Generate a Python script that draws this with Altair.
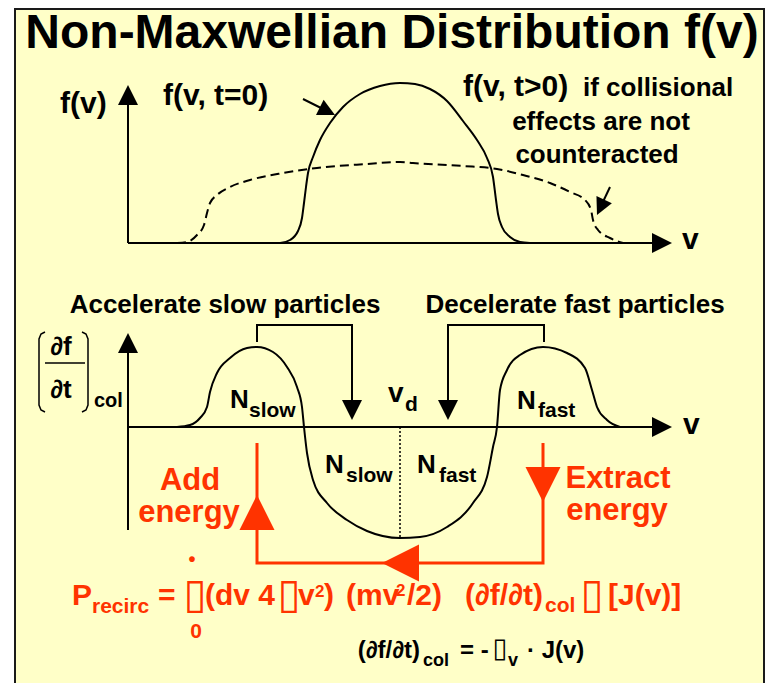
import math
import altair as alt
import pandas as pd

BLACK = "#000000"
RED = "#ff3300"
PAPER = "#ffffc8"
FONT = "Liberation Sans"
ARROW = "M0,-1L1,1L-1,1Z"

# ---------------- curves (positions in reference pixel space) ----------------
f0_x = [270, 280, 290, 298, 302, 304, 306, 308, 313, 320, 330, 343, 360, 380, 400,
        415, 430, 447, 463, 477, 487, 493, 496, 498, 502, 510, 520, 530]
f0_y = [243, 243, 240, 231, 218, 203, 187, 173, 157, 140, 123, 107, 94, 86, 83,
        84, 89, 101, 121, 140, 158, 177, 200, 214, 227, 237, 242, 243]

ft_x = [177, 187, 197, 204, 207, 210, 217, 230, 250, 283, 317, 367, 400, 413, 463,
        497, 523, 550, 570, 585, 591, 593, 598, 610, 623]
ft_y = [243, 242, 235, 225, 213, 203, 195, 187, 180, 173, 168, 164, 162, 163, 166,
        169, 175, 183, 192, 200, 210, 220, 230, 238, 243]

dd_x = [177, 190, 200, 207, 210, 217, 230, 247, 257, 273, 287, 297, 302, 304, 307,
        313, 327, 347, 367, 400, 420, 447, 473, 487, 493, 497, 500, 507, 520, 543,
        567, 585, 592, 597, 607, 620]
dd_y = [427, 425, 418, 407, 392, 373, 358, 348, 347, 352, 367, 387, 407, 427, 453,
        480, 503, 520, 531, 538, 537, 527, 503, 477, 447, 427, 390, 370, 355, 347,
        353, 368, 390, 407, 420, 427]

# ---------------- straight strokes ----------------
black_paths = [
    ([128, 128], [243, 100]),                 # top f(v) axis
    ([128, 655], [243, 243]),                 # top v axis
    ([128, 128], [530, 348]),                 # bottom (df/dt) axis
    ([128, 655], [427, 427]),                 # bottom v axis
    ([303, 327], [99, 111]),                  # f(v,t=0) pointer
    ([610, 601], [187, 206]),                 # f(v,t>0) pointer
    ([257, 257, 352, 352], [342, 325, 325, 405]),   # accelerate bracket
    ([544, 544, 448, 448], [342, 325, 325, 405]),   # decelerate bracket
]
thin_paths = [
    ([45, 41, 39, 39, 41, 45], [332, 334, 339, 405, 410, 412]),   # left bracket
    ([82, 86, 88, 88, 86, 82], [332, 334, 339, 405, 410, 412]),   # right bracket
    ([45, 85], [363, 363]),                                        # fraction bar
]
red_paths = [
    ([257, 257, 543, 543], [443, 563, 563, 443]),
]
dotted_x = [400, 400]
dotted_y = [427, 538]

# ---------------- arrow heads: tip x, tip y, direction (deg, clockwise from up), size ----------------
head_x = [128, 672, 335, 597, 128, 672, 352, 448, 257, 543, 382]
head_y = [85, 243, 115, 215, 333, 427, 420, 420, 495, 502, 563]
head_ang = [0, 90, 116.6, 204.9, 0, 90, 180, 180, 0, 180, 270]
head_side = [20, 20, 17, 17, 20, 20, 20, 20, 35, 35, 37]
head_col = [BLACK] * 8 + [RED] * 3

# ---------------- text ----------------
lab_text = ["Non-Maxwellian Distribution f(v)",
            "f(v)", "f(v, t=0)", "f(v, t>0)", "if collisional", "effects are not", "counteracted", "v",
            "Accelerate slow particles", "Decelerate fast particles", "v",
            "∂f", "∂t", "col",
            "N", "slow", "N", "slow", "N", "fast", "N", "fast", "v", "d",
            "Add", "energy", "Extract", "energy",
            "P", "recirc", "=", "•", "0", "(dv 4", "v", "2", ")", "(mv", "2", "/2)", "(∂f/∂t)", "col", "[J(v)]",
            "(∂f/∂t)", "col", "= -", "v", "· J(v)"]
lab_x = [392,
         60, 163, 463, 583, 601, 597, 682,
         225, 575, 683,
         61, 61, 94,
         230, 249, 325, 346, 417, 439, 517, 538, 388, 405,
         190, 189, 618, 617,
         72, 92, 158, 192, 196, 205, 298, 315, 324, 346, 396, 407, 543, 545, 608,
         420, 423, 460, 508, 527]
lab_y = [48,
         113, 105, 96, 96, 130, 163, 249,
         313, 313, 434,
         355, 398, 407,
         408, 417, 473, 482, 473, 482, 409, 417, 402, 411,
         490, 522, 488, 520,
         605, 613, 605, 566, 638, 605, 605, 597, 605, 605, 596, 605, 605, 612, 605,
         658, 666, 658, 666, 658]
lab_size = [48,
            30, 30, 30, 26, 26, 26, 30,
            26, 26, 30,
            26, 26, 20,
            26, 21, 26, 21, 26, 21, 26, 21, 28, 21,
            31, 31, 31, 31,
            30, 21, 30, 20, 21, 30, 30, 17, 30, 30, 17, 30, 30, 21, 30,
            24, 18, 24, 18, 24]
lab_col = [BLACK] * 24 + [RED] * 19 + [BLACK] * 5
lab_align = (["center"] + ["left"] * 4 + ["center", "center", "left"] + ["center", "center", "left"]
             + ["center", "center", "left"] + ["left"] * 10 + ["center"] * 4
             + ["left", "left", "left", "center", "center"] + ["left"] * 7 + ["right", "left", "left"]
             + ["right"] + ["left"] * 4)

# missing-glyph boxes as they appear in the picture
box_x = [195, 289, 592, 500]
box_y = [608, 608, 608, 657]
box_size = [42, 42, 42, 27]
box_col = [RED, RED, RED, BLACK]

# ---------------- chart ----------------
xscale = alt.Scale(domain=[8, 765], nice=False, zero=False)
yscale = alt.Scale(domain=[8, 683], reverse=True, nice=False, zero=False)
X = alt.X("x:Q", scale=xscale, axis=None)
Y = alt.Y("y:Q", scale=yscale, axis=None)


def path_layer(paths, color, width, dash=None, interp="linear"):
    rows = []
    for pid, (xs, ys) in enumerate(paths):
        for i, (a, b) in enumerate(zip(xs, ys)):
            rows.append({"pid": pid, "i": i, "x": a, "y": b})
    props = dict(color=color, strokeWidth=width, interpolate=interp,
                 strokeCap="butt", strokeJoin="miter")
    if dash:
        props["strokeDash"] = dash
    return alt.Chart(pd.DataFrame(rows)).mark_line(**props).encode(
        x=X, y=Y, detail="pid:N", order="i:Q")


frame = alt.Chart(pd.DataFrame({"x": [15], "x2": [764], "y": [9], "y2": [720]})).mark_rect(
    fill=PAPER, stroke="#1a1a1a", strokeWidth=2).encode(
    x=X, x2="x2:Q", y=Y, y2="y2:Q")

curve_solid = path_layer([(f0_x, f0_y), (dd_x, dd_y)], BLACK, 2, interp="monotone")
curve_dash = path_layer([(ft_x, ft_y)], BLACK, 2, dash=[9, 5], interp="monotone")
strokes = path_layer(black_paths, BLACK, 2)
thin = path_layer(thin_paths, BLACK, 1.5)
red = path_layer(red_paths, RED, 3)
dotted = path_layer([(dotted_x, dotted_y)], BLACK, 1.5, dash=[2, 2])

hrows = []
for tx, ty, ang, side, col in zip(head_x, head_y, head_ang, head_side, head_col):
    s = side / 2.0
    th = math.radians(ang)
    hrows.append({"x": tx - s * math.sin(th), "y": ty + s * math.cos(th),
                  "ang": ang, "sz": side * side, "c": col})
heads = alt.Chart(pd.DataFrame(hrows)).mark_point(
    shape=ARROW, filled=True, opacity=1, strokeWidth=0).encode(
    x=X, y=Y,
    angle=alt.Angle("ang:Q", scale=None),
    size=alt.Size("sz:Q", scale=None),
    color=alt.Color("c:N", scale=None))

tdf = pd.DataFrame({"t": lab_text, "x": lab_x, "y": lab_y, "fs": lab_size,
                    "c": lab_col, "a": lab_align})


def text_layer(align):
    return alt.Chart(tdf[tdf["a"] == align]).mark_text(
        align=align, baseline="alphabetic", font=FONT, fontWeight="bold").encode(
        x=X, y=Y, text="t:N",
        size=alt.Size("fs:Q", scale=None),
        color=alt.Color("c:N", scale=None))


bdf = pd.DataFrame({"t": ["▯"] * 4, "x": box_x, "y": box_y, "fs": box_size, "c": box_col})
boxes = alt.Chart(bdf).mark_text(
    align="center", baseline="alphabetic", font="DejaVu Sans").encode(
    x=X, y=Y, text="t:N",
    size=alt.Size("fs:Q", scale=None),
    color=alt.Color("c:N", scale=None))

chart = alt.layer(
    frame, curve_solid, curve_dash, dotted, strokes, thin, red, heads,
    text_layer("left"), text_layer("center"), text_layer("right"), boxes
).properties(
    width=757, height=675, padding=0, background="white",
    autosize=alt.AutoSizeParams(type="none")
).configure_view(stroke=None)

chart.save("out.html", embed_options={"renderer": "svg", "actions": False})
